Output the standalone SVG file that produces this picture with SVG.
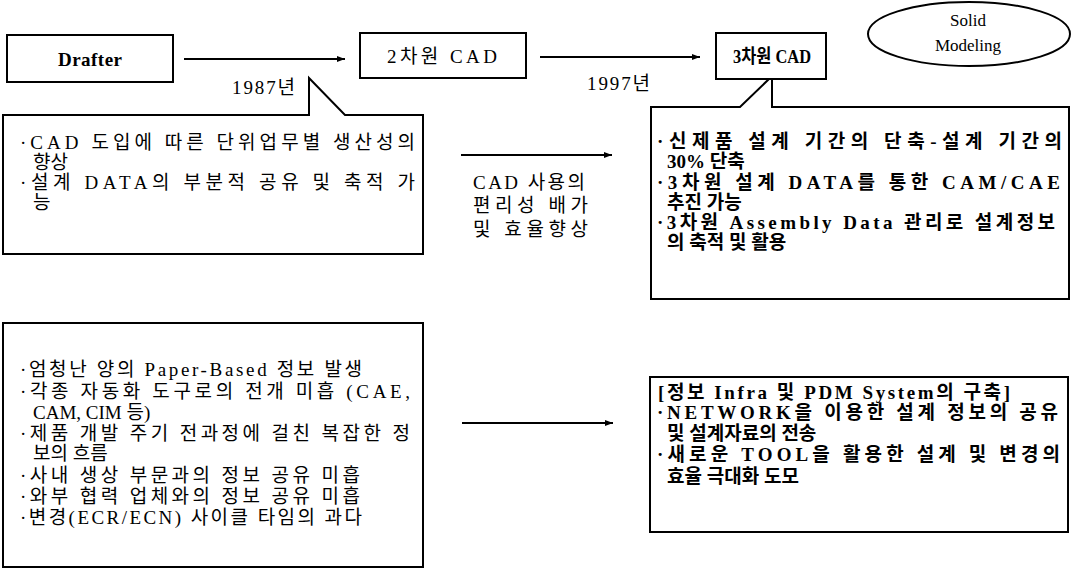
<svg xmlns="http://www.w3.org/2000/svg" width="1080" height="571" viewBox="0 0 1080 571">
<style>
.box{fill:#fff;stroke:#000;stroke-width:2}
.t{font-family:"Liberation Serif","Noto Sans CJK KR",serif;font-size:19px;fill:#000}
.s{font-size:17px}
.b{font-weight:bold}
.c{text-anchor:middle}
.conn{stroke:#000;stroke-width:2;fill:none}
</style>
<defs>
<marker id="ah" markerUnits="userSpaceOnUse" markerWidth="8" markerHeight="6" refX="8" refY="3" orient="auto">
<path d="M0,0 L8,3 L0,6 Z" fill="#000"/>
</marker>
</defs>
<rect width="1080" height="571" fill="#fff"/>

<g id="connectors">
<line class="conn" x1="184" y1="59" x2="345" y2="59" marker-end="url(#ah)"/>
<line class="conn" x1="540" y1="57" x2="700" y2="57" marker-end="url(#ah)"/>
<line class="conn" x1="461" y1="155" x2="612" y2="155" marker-end="url(#ah)"/>
<line class="conn" x1="462" y1="423" x2="613" y2="423" marker-end="url(#ah)"/>
<text class="t" x="232" y="94" font-size="21" textLength="63">1987년</text>
<text class="t" x="587" y="90" font-size="21" textLength="63">1997년</text>
<g id="mid-label">
<text class="t" x="473" y="189" textLength="112">CAD 사용의</text>
<text class="t" x="473" y="212" textLength="115">편리성 배가</text>
<text class="t" x="473" y="236" textLength="115">및 효율향상</text>
</g>
</g>

<g id="drafter">
<rect class="box" x="7" y="35" width="166" height="47"/>
<text class="t b c" x="90" y="66" font-size="20" textLength="64">Drafter</text>
</g>

<g id="cad2d">
<rect class="box" x="360" y="33" width="166" height="45"/>
<text class="t" x="387" y="63" font-size="21" textLength="110">2차원 CAD</text>
</g>

<g id="solid-modeling">
<ellipse class="box" cx="969" cy="34" rx="101" ry="32"/>
<text class="t s c" x="968" y="26">Solid</text>
<text class="t s c" x="968" y="51">Modeling</text>
</g>

<g id="cad3d">
<rect class="box" x="716" y="33" width="110" height="46"/>
<text class="t b" x="733" y="63" textLength="78" lengthAdjust="spacingAndGlyphs">3차원 CAD</text>
</g>

<g id="note-2d">
<path class="box" d="M3,115 H309 V78 L345,115 H423 V254 H3 Z"/>
<text class="t" x="20" y="149" textLength="395">·CAD 도입에 따른 단위업무별 생산성의</text>
<text class="t" x="33" y="169">향상</text>
<text class="t" x="20" y="189" textLength="395">·설계 DATA의 부분적 공유 및 축적 가</text>
<text class="t" x="33" y="209">능</text>
</g>

<g id="note-3d">
<path class="box" d="M651,107 H740 L769,79 H772 V107 H1069 V299 H651 Z"/>
<text class="t b" x="657" y="148" textLength="405">·신제품 설계 기간의 단축-설계 기간의</text>
<text class="t b" x="667" y="168">30% 단축</text>
<text class="t b" x="657" y="189" textLength="403">·3차원 설계 DATA를 통한 CAM/CAE</text>
<text class="t b" x="667" y="209">추진 가능</text>
<text class="t b" x="657" y="229" textLength="398">·3차원 Assembly Data 관리로 설계정보</text>
<text class="t b" x="667" y="249">의 축적 및 활용</text>
</g>

<g id="problems">
<rect class="box" x="3" y="323" width="420" height="244"/>
<text class="t" x="20" y="376" textLength="342">·엄청난 양의 Paper-Based 정보 발생</text>
<text class="t" x="20" y="398" textLength="390">·각종 자동화 도구로의 전개 미흡 (CAE,</text>
<text class="t" x="33" y="419">CAM, CIM 등)</text>
<text class="t" x="20" y="440" textLength="390">·제품 개발 주기 전과정에 걸친 복잡한 정</text>
<text class="t" x="33" y="460">보의 흐름</text>
<text class="t" x="20" y="482" textLength="340">·사내 생상 부문과의 정보 공유 미흡</text>
<text class="t" x="20" y="503" textLength="340">·와부 협력 업체와의 정보 공유 미흡</text>
<text class="t" x="20" y="524" textLength="342">·변경(ECR/ECN) 사이클 타임의 과다</text>
</g>

<g id="solutions">
<rect class="box" x="650" y="377" width="418" height="155"/>
<text class="t b" x="658" y="399" textLength="352">[정보 Infra 및 PDM System의 구축]</text>
<text class="t b" x="657" y="419" textLength="401">·NETWORK을 이용한 설계 정보의 공유</text>
<text class="t b" x="667" y="440">및 설계자료의 전송</text>
<text class="t b" x="657" y="461" textLength="403">·새로운 TOOL을 활용한 설계 및 변경의</text>
<text class="t b" x="667" y="483">효율 극대화 도모</text>
</g>
</svg>
